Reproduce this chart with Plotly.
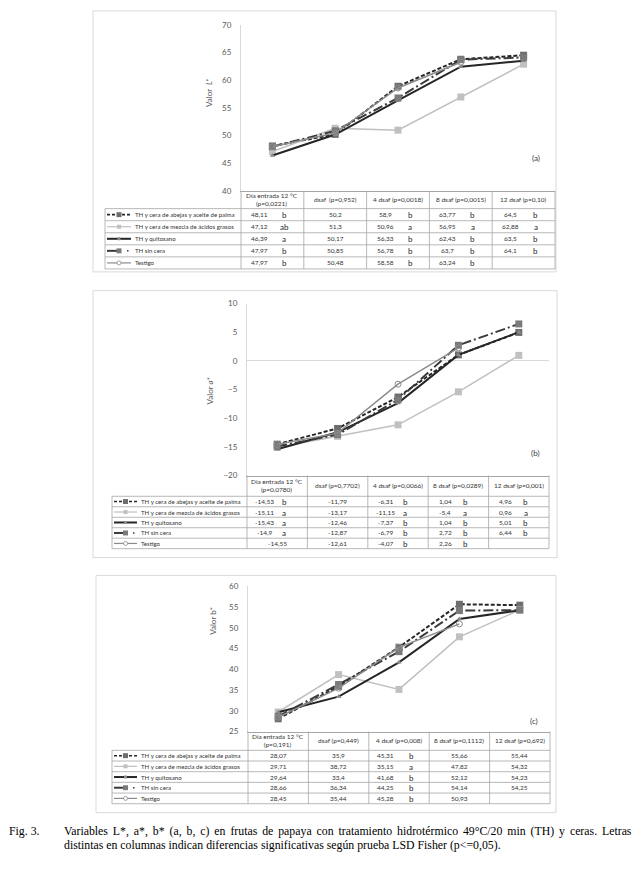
import plotly.graph_objects as go

W, H = 642, 871


def X(px):
    return px / W


def Y(py):
    return 1 - py / H


# ---------------- data ----------------
categories = ["Día entrada 12 °C", "dsaf", "4 dsaf", "8 dsaf", "12 dsaf"]
series_names = [
    "TH y cera de abejas y aceite de palma",
    "TH y cera de mezcla de ácidos grasos",
    "TH y quitosano",
    "TH sin cera",
    "Testigo",
]

# (a) L*
L_abejas = [48.11, 50.2, 58.9, 63.77, 64.5]
L_mezcla = [47.12, 51.3, 50.96, 56.95, 62.88]
L_quitosano = [46.39, 50.17, 56.33, 62.43, 63.5]
L_sincera = [47.97, 50.85, 56.78, 63.7, 64.1]
L_testigo = [47.97, 50.48, 58.58, 63.24, None]
L_headers = ["Día entrada 12 °C<br>(p=0,0221)", "dsaf  (p=0,952)", "4 dsaf (p=0,0018)",
             "8 dsaf (p=0,0015)", "12 dsaf (p=0,10)"]
L_letters = [
    ["b", "", "b", "b", "b"],
    ["ab", "", "a", "a", "a"],
    ["a", "", "b", "b", "b"],
    ["b", "", "b", "b", "b"],
    ["b", "", "b", "b", ""],
]

# (b) a*
a_abejas = [-14.53, -11.79, -6.31, 1.04, 4.96]
a_mezcla = [-15.11, -13.17, -11.15, -5.4, 0.96]
a_quitosano = [-15.43, -12.46, -7.37, 1.04, 5.01]
a_sincera = [-14.9, -12.87, -6.79, 2.72, 6.44]
a_testigo = [-14.55, -12.61, -4.07, 2.26, None]
a_headers = ["Día entrada 12 °C<br>(p=0,0780)", "dsaf (p=0,7702)", "4 dsaf (p=0,0066)",
             "8 dsaf (p=0,0289)", "12 dsaf (p=0,001)"]
a_letters = [
    ["b", "", "b", "b", "b"],
    ["a", "", "a", "a", "a"],
    ["a", "", "b", "b", "b"],
    ["a", "", "b", "b", "b"],
    ["", "", "b", "b", ""],
]

# (c) b*
b_abejas = [28.07, 35.9, 45.31, 55.66, 55.44]
b_mezcla = [29.71, 38.72, 35.15, 47.82, 54.32]
b_quitosano = [29.64, 33.4, 41.68, 52.12, 54.23]
b_sincera = [28.66, 36.34, 44.25, 54.14, 54.25]
b_testigo = [28.45, 35.44, 45.28, 50.93, None]
b_headers = ["Día entrada 12 °C<br>(p=0,191)", "dsaf (p=0,449)", "4 dsaf (p=0,008)",
             "8 dsaf (p=0,1112)", "12 dsaf (p=0,692)"]
b_letters = [
    ["", "", "b", "", ""],
    ["", "", "a", "", ""],
    ["", "", "b", "", ""],
    ["", "", "b", "", ""],
    ["", "", "b", "", ""],
]

caption_fig = "Fig. 3."
caption_line1_words = ["Variables", "L*,", "a*,", "b*", "(a,", "b,", "c)", "en", "frutas", "de",
                       "papaya", "con", "tratamiento", "hidrotérmico", "49°C/20", "min", "(TH)",
                       "y", "ceras.", "Letras"]
caption_line2 = "distintas en columnas indican diferencias significativas según prueba LSD Fisher (p&lt;=0,05)."

# ---------------- styles ----------------
styles = [
    dict(line=dict(color="#262626", width=2, dash="4px,2px"),
         marker=dict(symbol="square", size=7, color="#6e6e6e")),
    dict(line=dict(color="#c0c0c0", width=1.5),
         marker=dict(symbol="square", size=7, color="#c0c0c0")),
    dict(line=dict(color="#262626", width=2),
         marker=dict(symbol="triangle-up", size=5, color="#8a8a8a")),
    dict(line=dict(color="#3a3a3a", width=2, dash="10px,3px,2px,3px"),
         marker=dict(symbol="square", size=7, color="#7a7a7a")),
    dict(line=dict(color="#8c8c8c", width=1.5),
         marker=dict(symbol="circle-open", size=6, color="#8c8c8c")),
]

panels = [
    dict(series=[L_abejas, L_mezcla, L_quitosano, L_sincera, L_testigo], headers=L_headers,
         letters=L_letters, yrange=[40, 70], ax="", box=(93, 6, 556, 270),
         plot=(241, 20, 555, 188), head_bottom=206, table_bottom=267, tx0=105,
         kx=(107, 131, 133), ytitle="Valor  <i>L*</i>", ytitle_pos=(209, 89),
         label="(a)", label_pos=(536, 155), voff=-13, loff=12),
    dict(series=[a_abejas, a_mezcla, a_quitosano, a_sincera, a_testigo], headers=a_headers,
         letters=a_letters, yrange=[-20, 10], ax="2", box=(93, 289, 557, 559),
         plot=(247, 302, 549, 476), head_bottom=497, table_bottom=550, tx0=112,
         kx=(114, 137, 139), ytitle="Valor <i>a*</i>", ytitle_pos=(210, 390),
         label="(b)", label_pos=(535, 453), voff=-13, loff=7),
    dict(series=[b_abejas, b_mezcla, b_quitosano, b_sincera, b_testigo], headers=b_headers,
         letters=b_letters, yrange=[25, 60], ax="3", box=(96, 577, 556, 817),
         plot=(248, 588, 550, 735), head_bottom=754, table_bottom=808, tx0=112,
         kx=(114, 137, 139), ytitle="Valor b*", ytitle_pos=(213, 623),
         label="(c)", label_pos=(534, 724), voff=-14, loff=12),
]

fig = go.Figure()
shapes = []
annotations = []

GRID = "#a6a6a6"
TXT = "#333333"
FONT = "Lato"
TFS = 6.5
LFS = 6.1


def fmt(v):
    return str(v).replace(".", ",")


for p in panels:
    ax = p["ax"]
    px0, py0, px1, py1 = p["plot"]
    for name, vals, st in zip(series_names, p["series"], styles):
        fig.add_trace(go.Scatter(
            x=categories, y=vals, name=name, mode="lines+markers",
            line=st["line"], marker=st["marker"], showlegend=False,
            xaxis="x" + ax, yaxis="y" + ax, cliponaxis=False,
        ))
    fig.update_layout(**{
        "xaxis" + ax: dict(domain=[X(px0), X(px1)], anchor="y" + ax, type="category",
                           range=[-0.5, 4.5], showticklabels=False, showgrid=False,
                           zeroline=False, showline=True, linecolor=GRID, linewidth=1,
                           ticks=""),
        "yaxis" + ax: dict(domain=[Y(py1), Y(py0)], anchor="x" + ax, range=p["yrange"],
                           dtick=5, showgrid=False, showline=True, linecolor="#d9d9d9",
                           linewidth=1, ticks="", ticklabelstandoff=7,
                           tickfont=dict(family=FONT, size=8, color="#595959"),
                           zeroline=(p["yrange"][0] < 0 < p["yrange"][1]),
                           zerolinecolor="#d9d9d9", zerolinewidth=1),
    })

    # panel box
    bx0, by0, bx1, by1 = p["box"]
    shapes.append(dict(type="rect", xref="paper", yref="paper", x0=X(bx0), x1=X(bx1),
                       y0=Y(by1), y1=Y(by0), line=dict(color="#d9d9d9", width=1)))

    # table geometry
    ncol = len(categories)
    cw = (px1 - px0) / ncol
    edges = [px0 + i * cw for i in range(ncol + 1)]
    hb = p["head_bottom"]
    tb = p["table_bottom"]
    nrow = len(series_names)
    rh = (tb - hb) / nrow
    tx0 = p["tx0"]

    def hline(x0, x1, y):
        shapes.append(dict(type="line", xref="paper", yref="paper", x0=X(x0), x1=X(x1),
                           y0=Y(y), y1=Y(y), line=dict(color=GRID, width=0.8)))

    def vline(x, y0, y1):
        shapes.append(dict(type="line", xref="paper", yref="paper", x0=X(x), x1=X(x),
                           y0=Y(y0), y1=Y(y1), line=dict(color=GRID, width=0.8)))

    hline(tx0, px1, hb)
    for r in range(1, nrow + 1):
        hline(tx0, px1, hb + r * rh)
    vline(tx0, hb, tb)
    for e in edges:
        vline(e, py1, tb)

    # headers
    for i, h in enumerate(p["headers"]):
        annotations.append(dict(xref="paper", yref="paper", x=X(edges[i] + cw / 2),
                                y=Y((py1 + hb) / 2), text=h, showarrow=False,
                                xanchor="center", yanchor="middle",
                                font=dict(family=FONT, size=TFS, color=TXT)))

    # rows
    kx0, kx1, ktx = p["kx"]
    for r, (name, vals) in enumerate(zip(series_names, p["series"])):
        yc = hb + (r + 0.5) * rh
        annotations.append(dict(xref="paper", yref="paper", x=X(ktx), y=Y(yc), text=name,
                                showarrow=False, xanchor="left", yanchor="middle",
                                font=dict(family=FONT, size=LFS, color=TXT)))
        for c, v in enumerate(vals):
            if v is None:
                continue
            letter = p["letters"][r][c]
            cx = edges[c] + cw / 2
            if letter:
                annotations.append(dict(xref="paper", yref="paper", x=X(cx + p["voff"]),
                                        y=Y(yc), text=fmt(v), showarrow=False,
                                        xanchor="center", yanchor="middle",
                                        font=dict(family=FONT, size=TFS, color=TXT)))
                annotations.append(dict(xref="paper", yref="paper", x=X(cx + p["loff"]),
                                        y=Y(yc + 0.5), text=letter, showarrow=False,
                                        xanchor="center", yanchor="middle",
                                        font=dict(family=FONT, size=8, color="#262626")))
            else:
                annotations.append(dict(xref="paper", yref="paper", x=X(cx), y=Y(yc),
                                        text=fmt(v), showarrow=False, xanchor="center",
                                        yanchor="middle",
                                        font=dict(family=FONT, size=TFS, color=TXT)))

        # legend key
        km = (kx0 + kx1) / 2
        st = styles[r]
        lc = st["line"]["color"]
        if r == 0:
            shapes.append(dict(type="line", xref="paper", yref="paper", x0=X(kx0), x1=X(kx1),
                               y0=Y(yc), y1=Y(yc),
                               line=dict(color=lc, width=1.6, dash="3px,2px")))
            shapes.append(dict(type="rect", xref="paper", yref="paper", x0=X(km - 2.5),
                               x1=X(km + 2.5), y0=Y(yc + 2.5), y1=Y(yc - 2.5),
                               line=dict(width=0), fillcolor=st["marker"]["color"]))
        elif r == 1:
            shapes.append(dict(type="line", xref="paper", yref="paper", x0=X(kx0), x1=X(kx1),
                               y0=Y(yc), y1=Y(yc), line=dict(color=lc, width=1.2)))
            shapes.append(dict(type="rect", xref="paper", yref="paper", x0=X(km - 2),
                               x1=X(km + 2), y0=Y(yc + 2), y1=Y(yc - 2),
                               line=dict(width=0), fillcolor=st["marker"]["color"]))
        elif r == 2:
            shapes.append(dict(type="line", xref="paper", yref="paper", x0=X(kx0), x1=X(kx1),
                               y0=Y(yc), y1=Y(yc), line=dict(color=lc, width=2)))
            shapes.append(dict(type="rect", xref="paper", yref="paper", x0=X(km - 1.5),
                               x1=X(km + 1.5), y0=Y(yc + 1.5), y1=Y(yc - 1.5),
                               line=dict(width=0), fillcolor=st["marker"]["color"]))
        elif r == 3:
            shapes.append(dict(type="line", xref="paper", yref="paper", x0=X(kx0),
                               x1=X(km + 1), y0=Y(yc), y1=Y(yc), line=dict(color=lc, width=2)))
            shapes.append(dict(type="rect", xref="paper", yref="paper", x0=X(km - 2.5),
                               x1=X(km + 2.5), y0=Y(yc + 2.5), y1=Y(yc - 2.5),
                               line=dict(width=0), fillcolor=st["marker"]["color"]))
            shapes.append(dict(type="line", xref="paper", yref="paper", x0=X(kx1 - 4),
                               x1=X(kx1 - 2.5), y0=Y(yc), y1=Y(yc),
                               line=dict(color=lc, width=1.5)))
        else:
            shapes.append(dict(type="line", xref="paper", yref="paper", x0=X(kx0), x1=X(kx1),
                               y0=Y(yc), y1=Y(yc), line=dict(color=lc, width=1.2)))
            shapes.append(dict(type="circle", xref="paper", yref="paper", x0=X(km - 2),
                               x1=X(km + 2), y0=Y(yc + 2), y1=Y(yc - 2),
                               line=dict(color=lc, width=0.8), fillcolor="white"))

    # y title and panel label
    tx, ty = p["ytitle_pos"]
    annotations.append(dict(xref="paper", yref="paper", x=X(tx), y=Y(ty), text=p["ytitle"],
                            textangle=-90, showarrow=False, xanchor="center",
                            yanchor="middle", font=dict(family=FONT, size=8, color="#595959")))
    lx, ly = p["label_pos"]
    annotations.append(dict(xref="paper", yref="paper", x=X(lx), y=Y(ly), text=p["label"],
                            showarrow=False, xanchor="center", yanchor="middle",
                            font=dict(family=FONT, size=8, color="#404040")))

# caption (first line justified: slightly wider word gaps)
CAPF = dict(family="Liberation Serif", size=11.8, color="#000000")
annotations.append(dict(xref="paper", yref="paper", x=X(8), y=Y(836), text=caption_fig,
                        showarrow=False, xanchor="left", yanchor="middle", font=CAPF,
                        borderpad=0))
annotations.append(dict(xref="paper", yref="paper", x=X(63), y=Y(836),
                        text=" \u2006".join(caption_line1_words),
                        showarrow=False, xanchor="left", yanchor="middle", font=CAPF,
                        borderpad=0))
annotations.append(dict(xref="paper", yref="paper", x=X(63), y=Y(850), text=caption_line2,
                        showarrow=False, xanchor="left", yanchor="middle", font=CAPF,
                        borderpad=0))

fig.update_layout(
    width=W, height=H, margin=dict(l=0, r=0, t=0, b=0),
    paper_bgcolor="white", plot_bgcolor="white",
    shapes=shapes, annotations=annotations, showlegend=False,
)

fig.write_html("out.html", config={"displayModeBar": False},
               post_script="document.body.style.margin='0px';")
